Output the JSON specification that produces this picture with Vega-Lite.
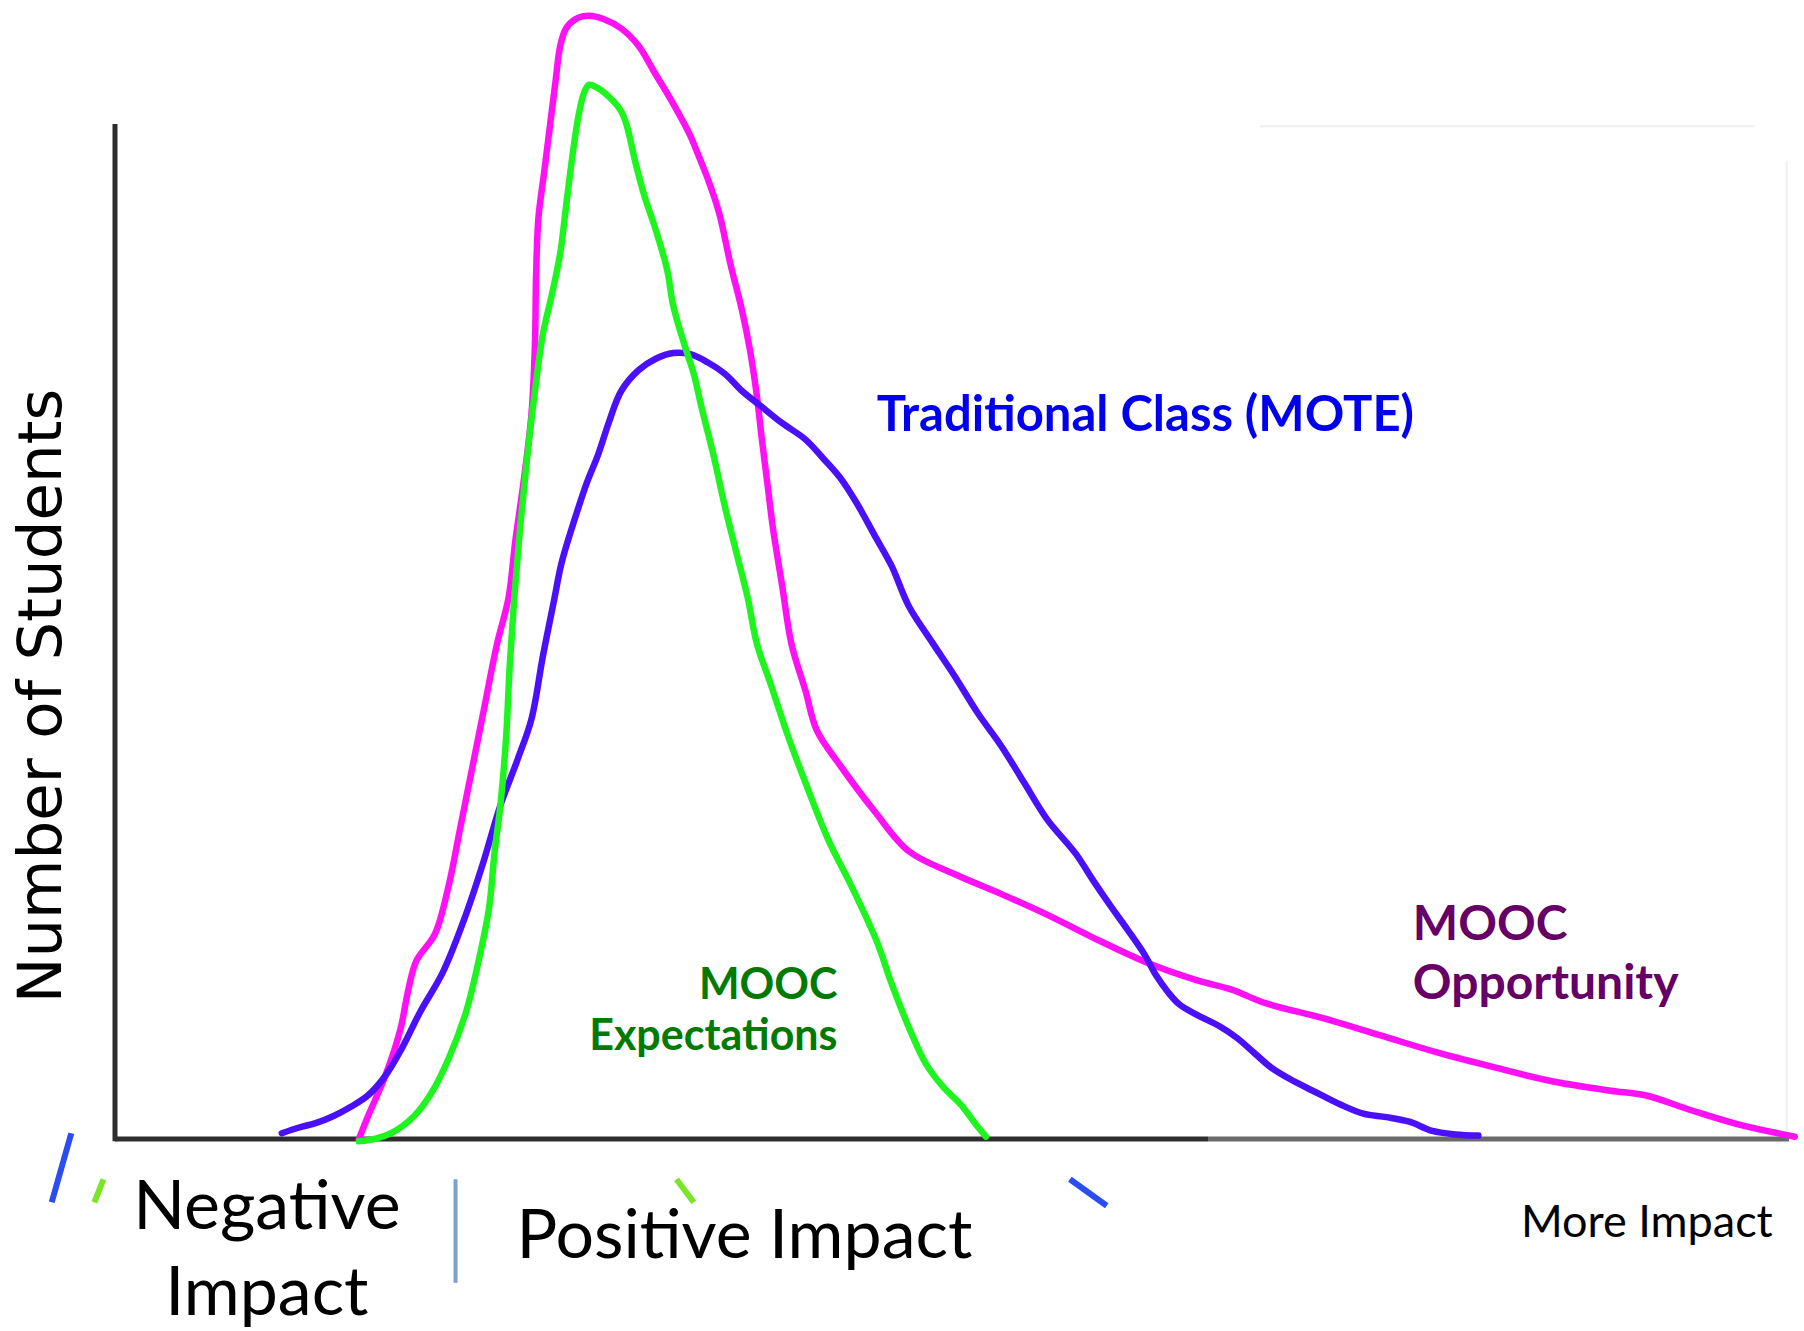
{
  "$schema": "https://vega.github.io/schema/vega-lite/v6.json",
  "width": 1674,
  "height": 1122,
  "autosize": {"type": "none"},
  "padding": {"left": 115, "top": 17, "right": 15, "bottom": 192},
  "background": "white",
  "config": {"view": {"stroke": null}},
  "datasets": {
    "curves": [
      {"series": "Opportunity", "i": 0, "x": 212, "y": 0},
      {"series": "Opportunity", "i": 1, "x": 220, "y": 20},
      {"series": "Opportunity", "i": 2, "x": 235, "y": 55},
      {"series": "Opportunity", "i": 3, "x": 248, "y": 95},
      {"series": "Opportunity", "i": 4, "x": 255, "y": 130},
      {"series": "Opportunity", "i": 5, "x": 262, "y": 155},
      {"series": "Opportunity", "i": 6, "x": 278, "y": 178},
      {"series": "Opportunity", "i": 7, "x": 290, "y": 220},
      {"series": "Opportunity", "i": 8, "x": 300, "y": 270},
      {"series": "Opportunity", "i": 9, "x": 310, "y": 320},
      {"series": "Opportunity", "i": 10, "x": 320, "y": 370},
      {"series": "Opportunity", "i": 11, "x": 332, "y": 430},
      {"series": "Opportunity", "i": 12, "x": 342, "y": 470},
      {"series": "Opportunity", "i": 13, "x": 348, "y": 520},
      {"series": "Opportunity", "i": 14, "x": 355, "y": 570},
      {"series": "Opportunity", "i": 15, "x": 362, "y": 630},
      {"series": "Opportunity", "i": 16, "x": 365, "y": 690},
      {"series": "Opportunity", "i": 17, "x": 366, "y": 750},
      {"series": "Opportunity", "i": 18, "x": 368, "y": 800},
      {"series": "Opportunity", "i": 19, "x": 373, "y": 840},
      {"series": "Opportunity", "i": 20, "x": 378, "y": 880},
      {"series": "Opportunity", "i": 21, "x": 383, "y": 920},
      {"series": "Opportunity", "i": 22, "x": 387, "y": 950},
      {"series": "Opportunity", "i": 23, "x": 392, "y": 965},
      {"series": "Opportunity", "i": 24, "x": 400, "y": 973},
      {"series": "Opportunity", "i": 25, "x": 412, "y": 976},
      {"series": "Opportunity", "i": 26, "x": 425, "y": 973},
      {"series": "Opportunity", "i": 27, "x": 440, "y": 965},
      {"series": "Opportunity", "i": 28, "x": 455, "y": 950},
      {"series": "Opportunity", "i": 29, "x": 470, "y": 925},
      {"series": "Opportunity", "i": 30, "x": 485, "y": 900},
      {"series": "Opportunity", "i": 31, "x": 500, "y": 872},
      {"series": "Opportunity", "i": 32, "x": 505, "y": 860},
      {"series": "Opportunity", "i": 33, "x": 515, "y": 835},
      {"series": "Opportunity", "i": 34, "x": 525, "y": 805},
      {"series": "Opportunity", "i": 35, "x": 535, "y": 760},
      {"series": "Opportunity", "i": 36, "x": 545, "y": 720},
      {"series": "Opportunity", "i": 37, "x": 552, "y": 685},
      {"series": "Opportunity", "i": 38, "x": 558, "y": 645},
      {"series": "Opportunity", "i": 39, "x": 562, "y": 610},
      {"series": "Opportunity", "i": 40, "x": 567, "y": 570},
      {"series": "Opportunity", "i": 41, "x": 572, "y": 530},
      {"series": "Opportunity", "i": 42, "x": 580, "y": 480},
      {"series": "Opportunity", "i": 43, "x": 588, "y": 430},
      {"series": "Opportunity", "i": 44, "x": 600, "y": 390},
      {"series": "Opportunity", "i": 45, "x": 610, "y": 355},
      {"series": "Opportunity", "i": 46, "x": 630, "y": 325},
      {"series": "Opportunity", "i": 47, "x": 660, "y": 285},
      {"series": "Opportunity", "i": 48, "x": 690, "y": 250},
      {"series": "Opportunity", "i": 49, "x": 730, "y": 230},
      {"series": "Opportunity", "i": 50, "x": 770, "y": 213},
      {"series": "Opportunity", "i": 51, "x": 810, "y": 195},
      {"series": "Opportunity", "i": 52, "x": 850, "y": 175},
      {"series": "Opportunity", "i": 53, "x": 900, "y": 152},
      {"series": "Opportunity", "i": 54, "x": 940, "y": 138},
      {"series": "Opportunity", "i": 55, "x": 970, "y": 130},
      {"series": "Opportunity", "i": 56, "x": 1000, "y": 118},
      {"series": "Opportunity", "i": 57, "x": 1050, "y": 105},
      {"series": "Opportunity", "i": 58, "x": 1100, "y": 90},
      {"series": "Opportunity", "i": 59, "x": 1150, "y": 75},
      {"series": "Opportunity", "i": 60, "x": 1200, "y": 62},
      {"series": "Opportunity", "i": 61, "x": 1250, "y": 50},
      {"series": "Opportunity", "i": 62, "x": 1300, "y": 42},
      {"series": "Opportunity", "i": 63, "x": 1330, "y": 38},
      {"series": "Opportunity", "i": 64, "x": 1370, "y": 25},
      {"series": "Opportunity", "i": 65, "x": 1410, "y": 13},
      {"series": "Opportunity", "i": 66, "x": 1460, "y": 2},

      {"series": "Traditional", "i": 0, "x": 145, "y": 5},
      {"series": "Traditional", "i": 1, "x": 160, "y": 10},
      {"series": "Traditional", "i": 2, "x": 175, "y": 14},
      {"series": "Traditional", "i": 3, "x": 190, "y": 20},
      {"series": "Traditional", "i": 4, "x": 205, "y": 28},
      {"series": "Traditional", "i": 5, "x": 220, "y": 38},
      {"series": "Traditional", "i": 6, "x": 235, "y": 55},
      {"series": "Traditional", "i": 7, "x": 250, "y": 80},
      {"series": "Traditional", "i": 8, "x": 265, "y": 110},
      {"series": "Traditional", "i": 9, "x": 285, "y": 145},
      {"series": "Traditional", "i": 10, "x": 305, "y": 195},
      {"series": "Traditional", "i": 11, "x": 320, "y": 240},
      {"series": "Traditional", "i": 12, "x": 335, "y": 290},
      {"series": "Traditional", "i": 13, "x": 350, "y": 330},
      {"series": "Traditional", "i": 14, "x": 362, "y": 365},
      {"series": "Traditional", "i": 15, "x": 372, "y": 420},
      {"series": "Traditional", "i": 16, "x": 382, "y": 470},
      {"series": "Traditional", "i": 17, "x": 388, "y": 500},
      {"series": "Traditional", "i": 18, "x": 400, "y": 540},
      {"series": "Traditional", "i": 19, "x": 410, "y": 570},
      {"series": "Traditional", "i": 20, "x": 420, "y": 595},
      {"series": "Traditional", "i": 21, "x": 430, "y": 625},
      {"series": "Traditional", "i": 22, "x": 440, "y": 650},
      {"series": "Traditional", "i": 23, "x": 455, "y": 668},
      {"series": "Traditional", "i": 24, "x": 470, "y": 678},
      {"series": "Traditional", "i": 25, "x": 485, "y": 683},
      {"series": "Traditional", "i": 26, "x": 500, "y": 682},
      {"series": "Traditional", "i": 27, "x": 515, "y": 675},
      {"series": "Traditional", "i": 28, "x": 530, "y": 665},
      {"series": "Traditional", "i": 29, "x": 545, "y": 650},
      {"series": "Traditional", "i": 30, "x": 560, "y": 638},
      {"series": "Traditional", "i": 31, "x": 580, "y": 622},
      {"series": "Traditional", "i": 32, "x": 600, "y": 608},
      {"series": "Traditional", "i": 33, "x": 615, "y": 592},
      {"series": "Traditional", "i": 34, "x": 630, "y": 575},
      {"series": "Traditional", "i": 35, "x": 645, "y": 552},
      {"series": "Traditional", "i": 36, "x": 660, "y": 525},
      {"series": "Traditional", "i": 37, "x": 675, "y": 498},
      {"series": "Traditional", "i": 38, "x": 690, "y": 463},
      {"series": "Traditional", "i": 39, "x": 710, "y": 432},
      {"series": "Traditional", "i": 40, "x": 730, "y": 402},
      {"series": "Traditional", "i": 41, "x": 750, "y": 370},
      {"series": "Traditional", "i": 42, "x": 770, "y": 342},
      {"series": "Traditional", "i": 43, "x": 790, "y": 310},
      {"series": "Traditional", "i": 44, "x": 810, "y": 278},
      {"series": "Traditional", "i": 45, "x": 835, "y": 248},
      {"series": "Traditional", "i": 46, "x": 850, "y": 225},
      {"series": "Traditional", "i": 47, "x": 865, "y": 203},
      {"series": "Traditional", "i": 48, "x": 880, "y": 182},
      {"series": "Traditional", "i": 49, "x": 895, "y": 160},
      {"series": "Traditional", "i": 50, "x": 905, "y": 142},
      {"series": "Traditional", "i": 51, "x": 915, "y": 128},
      {"series": "Traditional", "i": 52, "x": 925, "y": 117},
      {"series": "Traditional", "i": 53, "x": 940, "y": 108},
      {"series": "Traditional", "i": 54, "x": 960, "y": 98},
      {"series": "Traditional", "i": 55, "x": 975, "y": 88},
      {"series": "Traditional", "i": 56, "x": 990, "y": 75},
      {"series": "Traditional", "i": 57, "x": 1005, "y": 62},
      {"series": "Traditional", "i": 58, "x": 1025, "y": 50},
      {"series": "Traditional", "i": 59, "x": 1045, "y": 40},
      {"series": "Traditional", "i": 60, "x": 1065, "y": 30},
      {"series": "Traditional", "i": 61, "x": 1085, "y": 22},
      {"series": "Traditional", "i": 62, "x": 1105, "y": 19},
      {"series": "Traditional", "i": 63, "x": 1125, "y": 15},
      {"series": "Traditional", "i": 64, "x": 1145, "y": 7},
      {"series": "Traditional", "i": 65, "x": 1165, "y": 4},
      {"series": "Traditional", "i": 66, "x": 1185, "y": 3},

      {"series": "Expectations", "i": 0, "x": 212, "y": -2},
      {"series": "Expectations", "i": 1, "x": 225, "y": 0},
      {"series": "Expectations", "i": 2, "x": 240, "y": 5},
      {"series": "Expectations", "i": 3, "x": 260, "y": 20},
      {"series": "Expectations", "i": 4, "x": 275, "y": 40},
      {"series": "Expectations", "i": 5, "x": 290, "y": 70},
      {"series": "Expectations", "i": 6, "x": 305, "y": 110},
      {"series": "Expectations", "i": 7, "x": 315, "y": 150},
      {"series": "Expectations", "i": 8, "x": 325, "y": 200},
      {"series": "Expectations", "i": 9, "x": 330, "y": 250},
      {"series": "Expectations", "i": 10, "x": 335, "y": 290},
      {"series": "Expectations", "i": 11, "x": 340, "y": 350},
      {"series": "Expectations", "i": 12, "x": 343, "y": 410},
      {"series": "Expectations", "i": 13, "x": 347, "y": 470},
      {"series": "Expectations", "i": 14, "x": 352, "y": 530},
      {"series": "Expectations", "i": 15, "x": 358, "y": 590},
      {"series": "Expectations", "i": 16, "x": 365, "y": 650},
      {"series": "Expectations", "i": 17, "x": 372, "y": 700},
      {"series": "Expectations", "i": 18, "x": 380, "y": 735},
      {"series": "Expectations", "i": 19, "x": 387, "y": 770},
      {"series": "Expectations", "i": 20, "x": 392, "y": 810},
      {"series": "Expectations", "i": 21, "x": 397, "y": 850},
      {"series": "Expectations", "i": 22, "x": 403, "y": 890},
      {"series": "Expectations", "i": 23, "x": 408, "y": 910},
      {"series": "Expectations", "i": 24, "x": 412, "y": 916},
      {"series": "Expectations", "i": 25, "x": 420, "y": 913},
      {"series": "Expectations", "i": 26, "x": 430, "y": 905},
      {"series": "Expectations", "i": 27, "x": 440, "y": 893},
      {"series": "Expectations", "i": 28, "x": 445, "y": 880},
      {"series": "Expectations", "i": 29, "x": 452, "y": 850},
      {"series": "Expectations", "i": 30, "x": 460, "y": 820},
      {"series": "Expectations", "i": 31, "x": 470, "y": 790},
      {"series": "Expectations", "i": 32, "x": 480, "y": 755},
      {"series": "Expectations", "i": 33, "x": 485, "y": 725},
      {"series": "Expectations", "i": 34, "x": 495, "y": 690},
      {"series": "Expectations", "i": 35, "x": 503, "y": 665},
      {"series": "Expectations", "i": 36, "x": 510, "y": 635},
      {"series": "Expectations", "i": 37, "x": 520, "y": 595},
      {"series": "Expectations", "i": 38, "x": 530, "y": 550},
      {"series": "Expectations", "i": 39, "x": 540, "y": 510},
      {"series": "Expectations", "i": 40, "x": 550, "y": 470},
      {"series": "Expectations", "i": 41, "x": 558, "y": 430},
      {"series": "Expectations", "i": 42, "x": 570, "y": 395},
      {"series": "Expectations", "i": 43, "x": 585, "y": 350},
      {"series": "Expectations", "i": 44, "x": 600, "y": 310},
      {"series": "Expectations", "i": 45, "x": 620, "y": 260},
      {"series": "Expectations", "i": 46, "x": 640, "y": 220},
      {"series": "Expectations", "i": 47, "x": 662, "y": 172},
      {"series": "Expectations", "i": 48, "x": 675, "y": 135},
      {"series": "Expectations", "i": 49, "x": 690, "y": 97},
      {"series": "Expectations", "i": 50, "x": 705, "y": 65},
      {"series": "Expectations", "i": 51, "x": 720, "y": 45},
      {"series": "Expectations", "i": 52, "x": 735, "y": 30},
      {"series": "Expectations", "i": 53, "x": 748, "y": 13},
      {"series": "Expectations", "i": 54, "x": 757, "y": 2}
    ],
    "axisLines": [
      {"part": "yaxis", "x": 0, "y": -2, "x2": 0, "y2": 882},
      {"part": "xdark", "x": 0, "y": 0, "x2": 950, "y2": 0}
    ],
    "axisFade": [
      {"x": 950, "y": 0, "x2": 1455, "y2": 0}
    ],
    "frame": [
      {"x": 995, "y": 880, "x2": 1425, "y2": 880},
      {"x": 1453, "y": 850, "x2": 1453, "y2": 3}
    ],
    "divider": [
      {"x": 296, "y": -35, "x2": 296, "y2": -125}
    ],
    "scrapsBlue": [
      {"x": -38, "y": 5, "x2": -55, "y2": -55},
      {"x": 830, "y": -35, "x2": 862, "y2": -58}
    ],
    "scrapsGreen": [
      {"x": -10, "y": -35, "x2": -18, "y2": -55},
      {"x": 488, "y": -35, "x2": 503, "y2": -55}
    ],
    "bottomBig": [
      {"text": "Negative", "x": 132, "y": -78},
      {"text": "Impact", "x": 132, "y": -153},
      {"text": "Positive Impact", "x": 547, "y": -103}
    ],
    "bottomSmall": [
      {"text": "More Impact", "x": 1222, "y": -85}
    ],
    "labTrad": [
      {"text": "Traditional Class (MOTE)", "x": 662, "y": 615}
    ],
    "labExp": [
      {"text": "MOOC", "x": 628, "y": 122},
      {"text": "Expectations", "x": 628, "y": 77}
    ],
    "labOpp": [
      {"text": "MOOC", "x": 1128, "y": 173},
      {"text": "Opportunity", "x": 1128, "y": 122}
    ],
    "yTitle": [
      {"text": "Number of Students", "x": -63, "y": 385}
    ]
  },
  "layer": [
    {
      "data": {"name": "frame"},
      "mark": {"type": "rule", "color": "#efefef", "strokeWidth": 2},
      "encoding": {
        "x": {"field": "x", "type": "quantitative", "scale": {"domain": [0, 1455], "nice": false, "zero": false}, "axis": null},
        "y": {"field": "y", "type": "quantitative", "scale": {"domain": [0, 975], "nice": false, "zero": false}, "axis": null},
        "x2": {"field": "x2"},
        "y2": {"field": "y2"}
      }
    },
    {
      "data": {"name": "axisFade"},
      "mark": {"type": "rule", "color": "#6a6a6a", "strokeWidth": 5},
      "encoding": {
        "x": {"field": "x", "type": "quantitative"},
        "y": {"field": "y", "type": "quantitative"},
        "x2": {"field": "x2"},
        "y2": {"field": "y2"}
      }
    },
    {
      "data": {"name": "axisLines"},
      "mark": {"type": "rule", "color": "#2e2e2e", "strokeWidth": 5},
      "encoding": {
        "x": {"field": "x", "type": "quantitative"},
        "y": {"field": "y", "type": "quantitative"},
        "x2": {"field": "x2"},
        "y2": {"field": "y2"}
      }
    },
    {
      "data": {"name": "curves"},
      "mark": {"type": "line", "strokeWidth": 6.5, "interpolate": "catmull-rom", "clip": false, "strokeCap": "round", "strokeJoin": "round"},
      "encoding": {
        "x": {"field": "x", "type": "quantitative"},
        "y": {"field": "y", "type": "quantitative"},
        "order": {"field": "i", "type": "quantitative"},
        "color": {
          "field": "series", "type": "nominal",
          "scale": {"domain": ["Traditional", "Expectations", "Opportunity"], "range": ["#4a10fa", "#1ef51e", "#ff10f5"]},
          "legend": null
        }
      }
    },
    {
      "data": {"name": "divider"},
      "mark": {"type": "rule", "color": "#7aa2cc", "strokeWidth": 4},
      "encoding": {
        "x": {"field": "x", "type": "quantitative"},
        "y": {"field": "y", "type": "quantitative"},
        "x2": {"field": "x2"},
        "y2": {"field": "y2"}
      }
    },
    {
      "data": {"name": "scrapsBlue"},
      "mark": {"type": "rule", "color": "#2a4cf0", "strokeWidth": 6},
      "encoding": {
        "x": {"field": "x", "type": "quantitative"},
        "y": {"field": "y", "type": "quantitative"},
        "x2": {"field": "x2"},
        "y2": {"field": "y2"}
      }
    },
    {
      "data": {"name": "scrapsGreen"},
      "mark": {"type": "rule", "color": "#7be52a", "strokeWidth": 6},
      "encoding": {
        "x": {"field": "x", "type": "quantitative"},
        "y": {"field": "y", "type": "quantitative"},
        "x2": {"field": "x2"},
        "y2": {"field": "y2"}
      }
    },
    {
      "data": {"name": "bottomBig"},
      "mark": {"type": "text", "font": "Lato", "fontSize": 68, "color": "#000000", "align": "center", "baseline": "alphabetic"},
      "encoding": {
        "x": {"field": "x", "type": "quantitative"},
        "y": {"field": "y", "type": "quantitative"},
        "text": {"field": "text"}
      }
    },
    {
      "data": {"name": "bottomSmall"},
      "mark": {"type": "text", "font": "Lato", "fontSize": 45, "color": "#000000", "align": "left", "baseline": "alphabetic"},
      "encoding": {
        "x": {"field": "x", "type": "quantitative"},
        "y": {"field": "y", "type": "quantitative"},
        "text": {"field": "text"}
      }
    },
    {
      "data": {"name": "labTrad"},
      "mark": {"type": "text", "font": "Lato", "fontWeight": "bold", "fontSize": 49, "color": "#0000ee", "align": "left", "baseline": "alphabetic"},
      "encoding": {
        "x": {"field": "x", "type": "quantitative"},
        "y": {"field": "y", "type": "quantitative"},
        "text": {"field": "text"}
      }
    },
    {
      "data": {"name": "labExp"},
      "mark": {"type": "text", "font": "Lato", "fontWeight": "bold", "fontSize": 43, "color": "#007a00", "align": "right", "baseline": "alphabetic"},
      "encoding": {
        "x": {"field": "x", "type": "quantitative"},
        "y": {"field": "y", "type": "quantitative"},
        "text": {"field": "text"}
      }
    },
    {
      "data": {"name": "labOpp"},
      "mark": {"type": "text", "font": "Lato", "fontWeight": "bold", "fontSize": 48, "color": "#660066", "align": "left", "baseline": "alphabetic"},
      "encoding": {
        "x": {"field": "x", "type": "quantitative"},
        "y": {"field": "y", "type": "quantitative"},
        "text": {"field": "text"}
      }
    },
    {
      "data": {"name": "yTitle"},
      "mark": {"type": "text", "font": "DejaVu Sans", "fontSize": 61, "color": "#000000", "align": "center", "baseline": "middle", "angle": 270},
      "encoding": {
        "x": {"field": "x", "type": "quantitative"},
        "y": {"field": "y", "type": "quantitative"},
        "text": {"field": "text"}
      }
    }
  ]
}
